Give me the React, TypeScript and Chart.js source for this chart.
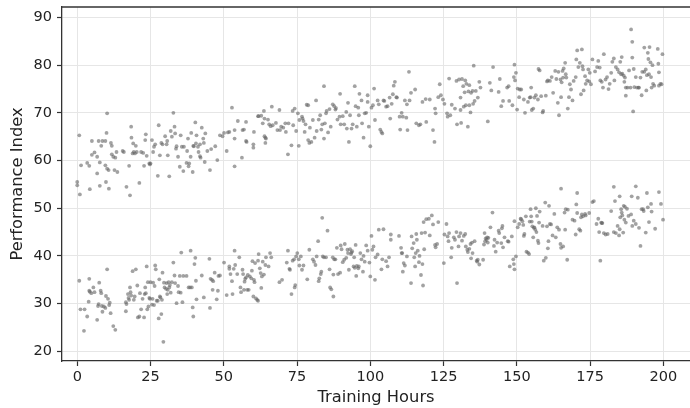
import React, { useEffect, useRef } from "react";
import { Chart, registerables } from "chart.js";

Chart.register(...registerables);

// Upper group (training hours, performance index)
const upperGroup: [number, number][] = [
  [0,55.5],[0,54.8],[0.7,65.3],[0.9,52.9],[1.3,59.0],[3.4,59.5],[4.1,58.9],[4.3,54.0],[5.0,64.1],[5.0,61.2],[5.9,61.7],[6.8,57.3],[6.8,60.8],[7.3,64.1],[7.7,59.6],[7.7,54.7],[8.2,63.1],[8.6,64.1],[9.6,64.1],[9.6,59.0],[9.8,55.5],[10.0,65.8],[10.2,69.9],[10.2,58.3],[10.7,58.0],[10.8,54.1],[11.5,63.7],[11.8,63.1],[11.8,61.3],[12.3,60.8],[12.7,58.0],[13.0,60.6],[13.4,61.8],[13.7,57.6],[15.5,62.0],[15.9,61.8],[16.8,54.5],[17.7,58.9],[18.0,52.7],[18.4,67.1],[18.5,64.8],[18.9,61.5],[19.1,63.6],[19.3,61.8],[19.7,61.5],[20.0,63.1],[20.3,61.8],[21.2,55.3],[21.8,61.8],[22.5,61.6],[22.8,58.9],[23.2,64.3],[23.4,65.5],[23.7,61.0],[24.6,59.4],[24.8,59.2],[25.0,59.4],[25.5,64.3],[25.9,61.8],[26.2,62.9],[26.6,63.4],[27.5,56.8],[27.8,67.4],[28.2,61.1],[28.7,63.7],[29.1,63.4],[30.0,65.1],[30.5,63.4],[30.7,64.1],[30.9,61.1],[31.4,56.7],[31.9,66.2],[32.3,65.0],[32.8,70.0],[33.2,67.1],[33.4,65.7],[33.7,62.5],[33.9,63.0],[34.4,60.8],[35.0,58.7],[35.3,65.3],[35.7,62.9],[36.2,57.8],[36.4,62.9],[37.3,59.5],[37.5,62.0],[37.8,64.6],[38.0,58.8],[38.2,59.4],[38.7,60.8],[38.9,65.8],[39.4,57.6],[39.6,63.1],[39.8,63.0],[40.3,68.0],[40.5,63.6],[40.7,65.3],[41.2,62.9],[41.4,61.8],[41.9,63.4],[41.9,60.9],[42.1,60.6],[42.5,66.9],[43.0,64.6],[43.2,63.7],[43.5,59.7],[43.7,65.7],[44.4,62.0],[45.3,58.0],[45.7,62.4],[47.1,63.0],[47.8,60.1],[48.7,65.3],[49.6,65.1],[50.1,65.8],[51.0,62.0],[51.4,65.9],
  [51.9,66.0],[52.8,71.1],[53.7,66.4],[53.7,64.6],[53.7,58.8],[54.8,68.3],[56.2,60.6],[56.4,66.4],[56.9,66.5],[57.6,68.1],[57.6,64.1],[57.8,63.9],[60.1,63.4],[60.1,62.7],[60.3,66.0],[61.7,69.3],[61.9,69.3],[62.8,69.4],[63.3,67.8],[63.7,70.4],[63.9,68.8],[63.9,65.1],[64.2,64.8],[64.2,63.7],[64.4,64.6],[65.1,68.6],[65.5,67.6],[66.0,67.2],[66.4,71.3],[66.7,67.4],[67.8,67.9],[68.3,66.4],[69.0,70.6],[69.2,66.4],[69.6,67.1],[70.3,66.9],[71.0,67.8],[71.2,66.0],[71.9,61.3],[72.1,67.8],[73.1,63.2],[73.5,70.4],[73.7,67.4],[74.2,70.9],[74.7,66.2],[75.3,69.9],[75.6,63.1],[75.8,68.5],[76.7,69.2],[76.9,68.8],[77.2,68.3],[77.6,66.0],[77.9,67.6],[78.3,71.7],[78.8,71.6],[78.8,64.3],[79.2,63.7],[79.4,66.9],[79.9,63.9],[80.4,68.5],[81.0,64.8],[81.5,72.6],[81.7,66.2],[82.4,68.6],[82.9,69.5],[83.3,66.5],[83.6,67.6],[84.2,75.6],[84.2,64.6],[84.5,67.8],[84.9,69.9],[85.1,70.4],[85.6,65.9],[86.1,70.8],[86.5,67.1],[87.2,71.8],[87.7,71.4],[88.1,70.7],[88.3,71.0],[88.8,68.6],[89.5,69.2],[89.7,74.0],[89.9,67.6],[90.6,69.3],[91.1,67.6],[91.8,70.2],[92.0,66.7],[92.4,72.1],[92.7,63.9],[93.1,69.5],[93.6,66.7],[94.0,67.6],[94.7,75.6],[95.0,71.4],[95.4,67.1],[95.9,71.1],[96.1,69.5],[96.3,74.0],[97.0,72.6],[97.2,67.8],[97.7,64.8],[98.1,69.9],[98.6,70.0],[99.1,72.3],[99.1,73.7],[99.5,67.1],[100.0,63.0],[100.4,71.1],[100.9,71.6],[101.3,75.1],[101.6,68.5],[102.5,72.6],[102.9,71.8],[103.4,66.5],[103.8,66.0],[104.1,65.7],[104.5,72.6],[104.8,72.5],[105.4,71.3],[105.9,71.4],[106.6,73.2],[106.8,68.8],[107.3,71.9],[107.7,73.9],[108.0,75.7],[108.4,76.5],[108.9,73.3],[109.1,73.2],[110.0,69.2],[110.2,66.5],[110.7,70.0],[111.1,69.2],[111.8,72.6],[112.3,69.0],[112.5,71.8],[112.7,66.4],[113.2,78.6],[113.4,72.6],[113.9,74.2],[115.3,74.9],[115.7,67.8],[116.6,67.4],[117.1,67.6],[117.8,72.3],[118.9,72.9],[119.1,68.1],[120.3,72.8],[121.4,66.4],[121.9,63.9],[122.1,70.9],[122.3,69.9],[123.2,73.3],[123.7,76.0],[124.1,73.7],[124.8,72.8],[125.3,71.9],[126.2,69.9],[126.4,69.2],[126.9,77.2],[127.3,69.5],[127.8,71.7],[128.9,70.9],[129.4,76.7],[129.6,67.6],
  [130.3,77.0],[130.8,73.2],[130.8,70.6],[131.0,67.9],[131.3,77.1],[131.7,75.6],[131.9,71.3],[132.2,74.3],[132.4,76.8],[132.6,71.6],[132.8,76.1],[133.3,67.1],[133.5,74.5],[133.8,75.8],[133.8,71.6],[134.2,70.1],[134.4,74.2],[134.9,74.6],[135.1,71.9],[135.3,79.9],[135.6,72.5],[136.0,74.6],[136.7,73.2],[137.2,76.5],[137.6,75.3],[140.1,68.2],[140.8,76.3],[141.3,74.7],[141.9,79.6],[143.8,74.4],[144.2,77.1],[144.7,71.4],[145.3,72.5],[146.7,75.3],[147.2,75.6],[147.4,72.5],[148.5,71.6],[149.0,77.5],[149.2,80.1],[149.4,76.8],[149.7,78.4],[150.1,70.7],[150.3,75.1],[150.8,73.3],[151.0,74.9],[151.5,74.9],[152.4,72.8],[152.8,70.0],[153.8,72.3],[154.4,73.2],[154.7,73.3],[154.9,75.3],[155.1,70.6],[155.6,70.9],[156.0,73.2],[156.5,73.7],[157.2,72.8],[157.4,79.2],[157.8,78.9],[158.3,73.5],[158.8,70.1],[159.0,70.4],[159.9,73.6],[160.3,76.6],[160.6,76.8],[161.3,76.7],[161.9,77.5],[162.4,74.2],[163.1,78.8],[163.5,77.1],[164.0,72.1],[164.2,78.6],[164.4,69.5],[164.9,77.0],[165.1,73.3],[165.3,76.4],[165.6,78.8],[165.8,77.4],[166.0,79.3],[166.5,80.5],[166.7,78.1],[166.9,77.4],[167.4,70.9],[167.8,73.3],[168.1,76.0],[168.5,74.9],[169.0,72.6],[169.4,76.7],[170.1,77.5],[170.3,81.2],[170.6,83.1],[171.0,79.6],[171.5,80.5],[171.9,73.9],[172.2,83.3],[172.4,79.8],[172.6,79.1],[172.8,74.7],[173.3,77.7],[173.5,76.1],[174.0,76.8],[174.4,79.1],[174.7,76.6],[174.9,78.4],[175.3,76.0],[175.8,81.2],[176.7,78.7],[177.4,79.6],[177.8,80.9],[178.3,79.5],[178.5,76.8],[179.0,76.5],[179.4,75.3],[179.7,82.3],[180.3,77.0],[180.8,77.5],[181.3,75.0],[181.7,76.1],[182.2,78.4],[182.6,80.7],[183.1,81.4],[183.3,76.8],[183.8,79.6],[184.4,79.1],[184.9,78.5],[185.3,80.7],[185.6,78.1],[185.8,81.7],[186.0,78.2],[186.5,77.8],[186.7,76.5],[186.9,77.4],[187.2,75.3],[187.2,73.6],[187.8,75.3],[188.3,78.9],[188.8,75.3],[189.0,87.5],[189.4,81.6],[189.4,84.9],[189.7,70.3],[189.9,79.2],[190.1,75.4],[190.6,77.5],[191.0,75.3],[191.5,75.3],[191.7,75.3],[192.2,77.4],[192.6,73.7],[192.8,78.6],[193.5,83.7],[193.5,78.6],[194.0,79.1],[194.2,74.7],[194.4,77.9],[194.7,82.6],[194.9,81.3],[195.1,78.1],[195.3,83.8],[195.6,80.6],[195.8,77.5],[196.0,75.3],[196.3,80.0],[196.5,76.1],[196.9,75.7],[198.1,83.4],[198.3,80.3],[198.5,78.5],[198.5,75.7],[199.0,76.1],[199.4,76.0],[199.7,82.3]
];

// Lower group (training hours, performance index)
const lowerGroup: [number, number][] = [
  [0.7,34.8],[1.1,28.8],[2.5,28.8],[2.3,24.3],[3.4,27.3],[4.1,35.2],[4.1,32.7],[4.3,32.5],[3.9,30.4],[4.8,32.2],[5.5,33.4],[5.9,32.4],[6.8,26.6],[7.1,29.5],[7.3,29.9],[7.5,34.4],[8.0,32.7],[8.2,32.2],[8.4,29.5],[8.6,28.3],[9.1,29.4],[9.6,29.1],[9.8,31.6],[10.2,37.2],[10.5,31.0],[10.9,29.7],[11.1,30.2],[11.4,28.0],[12.3,25.3],[13.0,24.5],[16.6,28.4],[16.6,30.3],[16.8,29.9],[17.3,32.0],[17.5,31.2],[17.7,30.8],[18.0,33.4],[18.2,32.4],[18.4,31.7],[18.9,36.8],[19.3,30.8],[19.6,31.5],[20.0,37.2],[20.5,33.8],[20.7,27.1],[21.2,27.3],[21.4,32.2],[21.8,28.8],[22.3,31.0],[22.8,27.1],[23.0,32.0],[23.2,33.4],[23.4,32.2],[23.7,37.8],[23.9,28.8],[24.1,34.5],[24.3,29.4],[24.6,31.2],[24.8,31.0],[25.0,34.5],[25.5,29.8],[25.7,31.0],[25.9,34.4],[26.2,29.7],[26.4,33.7],[26.6,38.0],[26.8,37.2],[27.1,30.6],[27.5,30.6],[27.8,26.9],[28.0,35.1],[28.2,31.5],[28.4,31.3],[28.7,27.8],[28.9,30.8],[29.1,36.5],[29.4,22.0],[29.6,34.4],[29.8,33.4],[30.3,33.1],[30.5,34.3],[30.7,32.0],[30.9,32.9],[31.2,34.5],[31.4,33.4],[31.6,33.9],[31.9,32.3],[32.3,34.5],[32.8,38.6],[33.2,35.9],[33.4,34.3],[33.9,30.1],[34.4,33.7],[34.6,32.4],[35.0,35.8],[35.3,32.3],[35.5,40.7],[35.9,30.3],[36.2,35.8],[37.3,35.8],[38.0,33.4],[38.5,33.4],[38.7,41.1],[39.1,33.4],[39.4,29.2],[39.6,27.3],[40.0,38.3],[40.3,39.6],[40.5,34.8],[40.7,30.9],[42.5,35.9],[43.2,31.3],[45.1,39.4],[45.3,29.1],[45.5,35.2],[46.0,35.0],[46.2,32.9],[46.4,34.7],[46.9,36.5],[47.6,30.9],[48.0,32.7],[48.2,35.8],[48.7,35.9],[50.1,38.6],[51.0,31.8],[51.9,37.3],
  [51.9,37.8],[52.3,36.2],[52.8,34.7],[53.0,32.0],[53.4,37.3],[53.7,41.1],[53.9,38.1],[54.6,36.2],[55.3,39.7],[55.7,33.4],[55.9,32.4],[56.4,37.1],[56.6,36.2],[56.9,32.9],[57.1,34.6],[57.3,35.2],[57.6,35.5],[58.0,32.9],[58.2,36.0],[58.5,32.9],[58.9,35.7],[59.4,35.3],[59.6,36.9],[59.8,38.9],[60.1,31.5],[60.3,35.0],[60.5,34.5],[60.7,38.5],[61.0,31.1],[61.4,30.8],[61.7,30.6],[61.7,39.0],[61.9,40.4],[62.3,37.4],[62.6,36.4],[62.8,33.3],[63.0,35.7],[63.3,38.8],[63.7,36.1],[64.2,38.1],[64.4,39.7],[65.3,37.8],[65.8,40.6],[66.2,39.7],[69.0,34.5],[69.9,35.0],[71.5,38.6],[71.9,41.1],[72.4,37.3],[72.6,37.1],[73.1,32.0],[73.5,39.0],[74.0,39.3],[74.2,33.4],[74.4,33.9],[74.7,39.9],[75.1,40.6],[75.6,39.3],[75.8,38.0],[76.3,39.9],[76.7,37.1],[77.2,38.0],[78.5,35.1],[79.2,41.3],[80.4,39.3],[80.8,38.8],[81.3,38.1],[81.7,39.9],[82.2,43.1],[82.4,34.7],[82.6,35.3],[83.1,36.2],[83.3,36.7],[83.6,48.0],[83.8,39.9],[84.2,39.7],[84.9,39.7],[85.4,45.3],[86.1,37.2],[86.3,33.4],[86.7,33.0],[87.2,39.7],[87.4,31.5],[87.7,39.3],[87.4,36.1],[88.1,39.3],[88.6,41.7],[89.0,36.2],[89.7,36.5],[89.9,42.2],[90.2,41.4],[90.6,38.7],[91.1,39.2],[91.3,42.5],[91.8,39.6],[92.2,41.3],[92.4,40.6],[92.7,37.1],[93.1,41.4],[93.4,40.4],[93.6,40.7],[93.8,41.0],[94.3,37.8],[94.5,39.7],[94.7,37.5],[95.0,42.3],[95.2,35.8],[95.4,37.9],[95.9,37.4],[96.1,37.8],[96.6,40.6],[97.0,39.3],[97.5,36.7],[97.7,40.0],[98.1,38.8],[98.6,42.2],[99.1,41.1],[99.7,38.6],[100.0,35.7],[100.4,44.2],[100.7,41.3],[101.1,42.0],[101.6,35.0],[101.8,39.7],[102.5,40.3],[102.9,45.5],[103.8,37.2],[104.1,39.3],[104.5,45.6],[105.4,38.9],[105.9,37.8],[106.4,39.7],[107.0,44.5],[107.0,43.4],[109.8,44.2],[110.5,41.7],[110.7,40.6],[110.9,40.6],[111.1,36.7],[111.4,38.5],[111.8,38.0],[112.5,39.9],[113.9,34.3],[114.1,44.1],[114.3,41.6],[114.8,42.7],[115.0,39.7],[115.3,37.8],[115.5,40.6],[115.7,44.6],[115.9,43.4],[116.2,41.1],[116.6,38.7],[116.8,40.0],[117.3,36.0],[117.5,44.8],[117.8,38.3],[118.0,33.8],[118.2,47.1],[118.4,41.4],[118.7,44.9],[119.1,47.7],[120.0,47.8],[120.3,44.3],[121.0,48.5],[121.4,46.6],[122.1,42.3],[122.3,41.8],[122.8,42.5],[123.2,47.1],[125.1,38.5],[125.3,44.5],[126.0,46.7],[126.4,44.1],[126.7,43.1],[126.9,44.8],[127.6,39.7],[127.8,41.7],[128.5,43.9],[128.9,43.4],[129.4,45.0],[129.6,34.3],[130.1,42.0],
  [130.3,44.1],[130.8,44.8],[131.3,43.2],[131.9,44.2],[132.4,44.6],[132.6,42.0],[133.1,41.3],[133.3,40.8],[133.8,41.5],[134.2,42.5],[134.4,39.5],[134.7,42.8],[134.9,40.6],[135.6,43.1],[136.3,39.0],[136.5,38.8],[136.7,39.2],[137.2,38.2],[138.5,39.2],[138.8,42.4],[139.0,44.8],[139.2,43.1],[139.4,43.7],[139.7,43.4],[139.9,43.9],[140.1,42.8],[140.3,43.8],[141.0,46.0],[141.7,49.1],[142.2,42.1],[142.4,43.4],[142.8,40.9],[143.3,42.8],[143.8,45.3],[144.0,44.8],[144.7,42.7],[144.9,45.8],[145.1,46.3],[145.3,41.8],[145.8,43.9],[146.9,43.1],[147.2,43.0],[147.6,37.8],[148.3,44.1],[148.8,39.3],[149.0,38.3],[149.2,37.2],[149.2,47.3],[149.7,39.9],[150.3,46.0],[150.8,46.7],[151.3,47.8],[151.5,47.7],[151.9,47.3],[152.2,46.5],[152.4,44.2],[152.6,44.6],[153.1,48.3],[153.3,40.9],[153.8,40.7],[154.2,40.4],[154.4,47.2],[154.7,49.8],[154.9,48.3],[155.1,47.2],[155.3,46.2],[155.6,43.9],[155.8,45.9],[156.0,46.0],[156.3,45.5],[156.5,50.0],[156.7,45.0],[156.9,48.4],[157.2,43.2],[157.4,42.7],[157.6,47.0],[157.8,49.3],[158.8,46.3],[159.2,39.0],[159.7,51.2],[159.9,39.6],[160.3,46.2],[160.6,41.6],[160.8,43.1],[161.0,50.5],[161.3,46.7],[161.7,46.6],[162.2,44.3],[162.8,48.8],[163.3,43.9],[163.8,46.0],[164.4,45.5],[164.9,42.5],[165.1,41.7],[165.1,54.1],[165.8,42.0],[166.3,49.1],[166.5,45.5],[166.7,49.8],[167.2,39.2],[167.4,49.7],[169.0,47.6],[169.7,47.4],[170.1,44.5],[170.3,50.8],[170.6,49.0],[170.6,53.2],[171.3,45.6],[171.7,45.3],[171.9,48.1],[172.2,48.7],[172.6,48.3],[173.3,48.8],[173.5,48.5],[174.7,49.0],[175.8,51.3],[176.3,51.5],[177.2,46.7],[177.8,47.8],[178.1,45.0],[178.5,39.0],[178.8,47.0],[179.0,46.9],[179.2,46.9],[179.7,44.8],[180.3,44.5],[181.0,44.6],[182.2,49.4],[183.1,45.0],[183.1,54.5],[183.5,51.5],[183.8,44.8],[184.4,46.3],[184.9,44.3],[185.1,45.6],[185.1,52.5],[185.3,48.1],[185.6,49.8],[185.8,49.1],[186.0,48.5],[186.3,44.9],[186.5,50.5],[186.7,47.6],[186.9,50.3],[187.2,47.0],[187.6,49.9],[188.1,48.4],[189.0,48.7],[189.2,52.5],[189.4,46.3],[189.9,47.4],[190.6,46.7],[190.6,54.6],[191.3,52.2],[191.7,45.9],[192.2,42.1],[192.6,49.8],[193.1,49.8],[193.3,49.4],[194.0,44.9],[194.4,53.2],[194.7,50.2],[195.1,47.1],[195.8,50.9],[196.0,49.3],[197.2,45.7],[198.5,53.4],[199.2,50.9],[199.9,47.6]
];

const xTicks = [0, 25, 50, 75, 100, 125, 150, 175, 200];
const yTicks = [20, 30, 40, 50, 60, 70, 80, 90];
const X_MIN = -5.2;
const X_MAX = 209.1;
const Y_MIN = 17.97;
const Y_MAX = 92.2;

const FONT = "'DejaVu Sans', sans-serif";
const SPINE = "#333333";

const topSpine = {
  id: "topSpine",
  afterDraw(chart: any) {
    const { ctx, chartArea } = chart;
    ctx.save();
    ctx.strokeStyle = SPINE;
    ctx.lineWidth = 1.3;
    ctx.beginPath();
    ctx.moveTo(chartArea.left, chartArea.top);
    ctx.lineTo(chartArea.right, chartArea.top);
    ctx.stroke();
    ctx.restore();
  },
};

export default function App() {
  const ref = useRef<HTMLCanvasElement | null>(null);

  useEffect(() => {
    if (!ref.current) return;
    const pointStyle = {
      pointRadius: 1.9,
      pointHoverRadius: 1.9,
      pointBorderWidth: 0,
      backgroundColor: "rgba(100,100,100,0.6)",
      borderColor: "rgba(100,100,100,0)",
    };
    const chart = new Chart(ref.current, {
      type: "scatter",
      data: {
        datasets: [
          { label: "Group A", data: upperGroup.map(([x, y]) => ({ x, y })), ...pointStyle },
          { label: "Group B", data: lowerGroup.map(([x, y]) => ({ x, y })), ...pointStyle },
        ],
      },
      options: {
        animation: false,
        responsive: false,
        maintainAspectRatio: false,
        devicePixelRatio: 1,
        layout: { autoPadding: false, padding: { top: 7, left: 0, right: 0, bottom: 0 } },
        plugins: { legend: { display: false }, tooltip: { enabled: false } },
        scales: {
          x: {
            type: "linear",
            min: X_MIN,
            max: X_MAX,
            afterBuildTicks: (s: any) => {
              s.ticks = xTicks.map((v) => ({ value: v }));
            },
            afterFit: (s: any) => {
              s.height = 47;
              s.paddingLeft = 0;
              s.paddingRight = 0;
            },
            ticks: {
              font: { family: FONT, size: 14.5 },
              color: "#222222",
              padding: 3,
              maxRotation: 0,
              autoSkip: false,
              callback: (v: any) => String(v),
            },
            grid: {
              color: "#e6e6e6",
              lineWidth: 1,
              tickLength: 5,
              tickColor: SPINE,
              tickWidth: 1.2,
            },
            border: { color: SPINE, width: 1.3 },
            title: {
              display: true,
              text: "Training Hours",
              font: { family: FONT, size: 16.3 },
              color: "#222222",
              padding: { top: 0, bottom: 0 },
            },
          },
          y: {
            type: "linear",
            min: Y_MIN,
            max: Y_MAX,
            afterBuildTicks: (s: any) => {
              s.ticks = yTicks.map((v) => ({ value: v }));
            },
            afterFit: (s: any) => {
              s.width = 62;
              s.paddingTop = 0;
              s.paddingBottom = 0;
            },
            ticks: {
              font: { family: FONT, size: 14.5 },
              color: "#222222",
              padding: 5,
              autoSkip: false,
              callback: (v: any) => String(v),
            },
            grid: {
              color: "#e6e6e6",
              lineWidth: 1,
              tickLength: 5,
              tickColor: SPINE,
              tickWidth: 1.2,
            },
            border: { color: SPINE, width: 1.3 },
            title: {
              display: true,
              text: "Performance Index",
              font: { family: FONT, size: 16.3 },
              color: "#222222",
              padding: { top: 8, bottom: 0 },
            },
          },
        },
      },
      plugins: [topSpine],
    });
    return () => chart.destroy();
  }, []);

  return (
    <div style={{ position: "fixed", left: 0, top: 0, width: 690, height: 408, background: "#ffffff" }}>
      <canvas ref={ref} width={690} height={408} style={{ display: "block", width: 690, height: 408 }} />
    </div>
  );
}
